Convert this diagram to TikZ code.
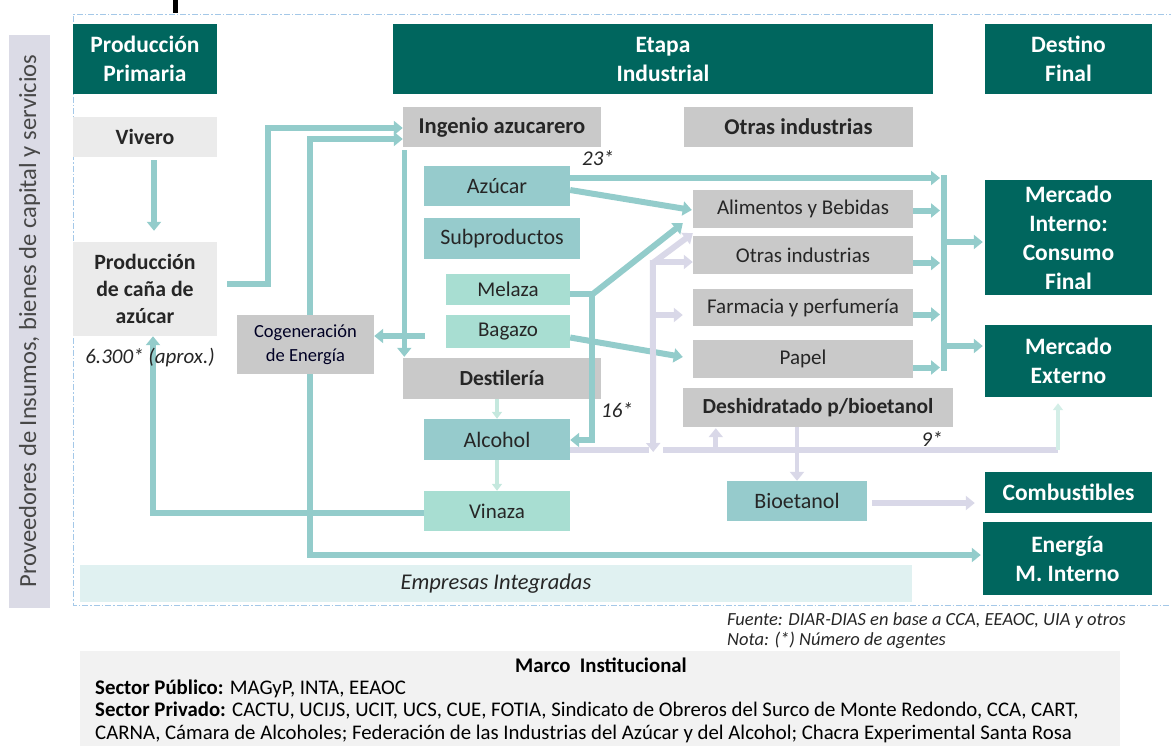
\documentclass[tikz,border=0pt]{standalone}
\usepackage{fontspec}
\setmainfont{Carlito}
\usetikzlibrary{arrows.meta,calc}
\definecolor{dteal}{HTML}{00665E}
\definecolor{tbox}{HTML}{96CBCC}
\definecolor{mbox}{HTML}{A8DED2}
\definecolor{gbox}{HTML}{C9C9C9}
\definecolor{lgray}{HTML}{EBEBEB}
\definecolor{tarr}{HTML}{93CCCB}
\definecolor{lav}{HTML}{D9D8E8}
\definecolor{barc}{HTML}{DBDBE6}
\definecolor{empc}{HTML}{E0F1F1}
\definecolor{marcoc}{HTML}{F2F2F2}
\definecolor{bord}{HTML}{A4C8E8}
\definecolor{txt}{HTML}{262626}
\definecolor{mintl}{HTML}{D3EEE7}
\definecolor{mints}{HTML}{C5E8DE}
\begin{document}
\begin{tikzpicture}[x=1pt,y=-1pt,
  box/.style={draw=none, inner sep=0pt, align=center, text=txt},
  hdr/.style={box, fill=dteal, text=white, font=\fontsize{23.5}{29}\selectfont\bfseries},
  gb/.style={box, fill=gbox, font=\fontsize{21.5}{26}\selectfont\bfseries},
  gbl/.style={box, fill=gbox, font=\fontsize{22.6}{26}\selectfont\bfseries},
  gr/.style={box, fill=gbox, font=\fontsize{21}{26}\selectfont},
  lg/.style={box, fill=lgray, font=\fontsize{21.8}{27}\selectfont\bfseries},
  tb/.style={box, fill=tbox, font=\fontsize{22}{26}\selectfont},
  mb/.style={box, fill=mbox, font=\fontsize{21}{26}\selectfont},
  lbl/.style={inner sep=0pt, text=txt, font=\fontsize{21}{24}\selectfont\itshape},
  tline/.style={draw=tarr, line width=6pt},
  tarrow/.style={tline, -{Triangle[length=9pt,width=14pt]}},
  lline/.style={draw=lav, line width=6pt},
  larrow/.style={lline, -{Triangle[length=9pt,width=14pt]}},
  marrow/.style={draw=mints, line width=4pt, -{Triangle[length=7pt,width=10pt]}},
  border/.style={draw=bord, line width=1pt, dash pattern=on 6pt off 2pt on 1.5pt off 2pt},
  note/.style={anchor=west, inner sep=0pt, text=txt, font=\fontsize{18.5}{22}\selectfont\itshape},
  mtext/.style={anchor=west, inner sep=0pt, text=black, font=\fontsize{20.8}{23}\selectfont},
]
\useasboundingbox (0,0) rectangle (1171,745);

% frame
\draw[border] (1175,14) -- (73,14) -- (73,605) -- (1175,605);
\fill[black] (173,0) rectangle (178,13);

% left bar
\node[box, fill=barc, minimum width=573pt, minimum height=41pt, rotate=90,
  font=\fontsize{24.6}{28}\selectfont, text=txt!85] (bar) at (29.5,321)
  {Proveedores de Insumos, bienes de capital y servicios};

% headers
\node[hdr, minimum width=144pt, minimum height=70pt] (pp) at (145,59) {Producción\\Primaria};
\node[hdr, minimum width=540pt, minimum height=70pt] (ei) at (663,59) {Etapa\\Industrial};
\node[hdr, minimum width=167pt, minimum height=70pt] (df) at (1068.5,59) {Destino\\Final};

% primary
\node[lg, minimum width=144pt, minimum height=40pt] (viv) at (145,137) {Vivero};
\node[lg, minimum width=144pt, minimum height=94pt] (cana) at (145,289) {Producción\\de caña de\\azúcar};
\node[box, fill=gbox, minimum width=137pt, minimum height=59pt, text=black!80!blue!70!black,
  font=\fontsize{18.5}{24}\selectfont] (cog) at (305.5,344.5) {Cogeneración\\de Energía};

% industrial
\node[gbl, minimum width=198pt, minimum height=40pt] (ing) at (502,127) {Ingenio azucarero};
\node[gbl, minimum width=229pt, minimum height=40pt] (otr1) at (798.5,127) {Otras industrias};
\node[tb, minimum width=146pt, minimum height=40pt] (azu) at (497,186) {Azúcar};
\node[tb, minimum width=156pt, minimum height=41pt] (sub) at (502,238.5) {Subproductos};
\node[mb, minimum width=124pt, minimum height=31pt] (mel) at (508,289.5) {Melaza};
\node[mb, minimum width=124pt, minimum height=33pt] (bag) at (508,331.5) {Bagazo};
\node[gb, minimum width=198pt, minimum height=41pt] (des) at (502,378.5) {Destilería};
\node[tb, minimum width=146pt, minimum height=41pt] (alc) at (497,439.5) {Alcohol};
\node[mb, minimum width=146pt, minimum height=40pt] (vin) at (497,511) {Vinaza};
\node[gr, minimum width=220pt, minimum height=38pt] (ali) at (803,209) {Alimentos y Bebidas};
\node[gr, minimum width=220pt, minimum height=38pt] (otr2) at (803,255) {Otras industrias};
\node[gr, minimum width=220pt, minimum height=37pt] (far) at (803,307.5) {Farmacia y perfumería};
\node[gr, minimum width=220pt, minimum height=38pt] (pap) at (803,359) {Papel};
\node[gb, minimum width=270pt, minimum height=39pt] (deh) at (818,407.5) {Deshidratado p/bioetanol};
\node[tb, minimum width=140pt, minimum height=40pt] (bio) at (797,501) {Bioetanol};

% destinations
\node[hdr, minimum width=167pt, minimum height=115pt] (mi) at (1068.5,237.5) {Mercado\\Interno:\\Consumo\\Final};
\node[hdr, minimum width=167pt, minimum height=72pt] (me) at (1068.5,361) {Mercado\\Externo};
\node[hdr, minimum width=167pt, minimum height=41pt] (com) at (1068.5,492.5) {Combustibles};
\node[hdr, minimum width=169pt, minimum height=73pt] (ene) at (1067.5,558.5) {Energía\\M. Interno};

% empresas integradas
\node[box, fill=empc, minimum width=832pt, minimum height=37pt,
  font=\fontsize{22.5}{24}\selectfont\itshape] (emp) at (496,583.5) {Empresas Integradas};

% connectors: primary
\draw[tarrow] ($(viv.south)+(9,3)$) -- ($(cana.north)+(9,-11)$);
\draw[tarrow] ($(cana.east)+(10,-5)$) -- ++(41,0) |- ($(ing.west)+(0,1)$);
\draw[tarrow] ($(cog.north)+(4.5,0)$) |- ($(ing.west)+(0,12)$);
\draw[tarrow] ($(cog.south)+(4.5,0)$) |- ($(ene.west)+(-2,-3.5)$);
\draw[tarrow] ($(vin.west)+(0,2)$) -| ($(cana.south)+(8,0)$);

% ingenio
\draw[tarrow, line width=5pt] ($(ing.south west)+(1.5,3)$) -- ($(des.north west)+(1.5,-1)$);
\draw[tarrow] ($(bag.west)+(-21,4.5)$) coordinate (bs) -- (bs -| cog.east);
\coordinate (cx) at (940,0);
\draw[tarrow] ($(azu.east)+(0,-8)$) coordinate (az1) -- (az1 -| cx);
\draw[tarrow] ($(azu.east)+(0,4)$) -- ($(ali.west)+(-1,1)$);
\draw[tline] ($(mel.east)+(0,4)$) -- ++(22,0) coordinate (mj);
\draw[tarrow] ($(mj)+(0,1)$) -- ($(ali.south west)+(-10,-5)$);
\draw[tarrow] (mj) |- ($(alc.east)+(0,0.5)$);
\draw[tarrow] ($(bag.east)+(0,6)$) -- ($(pap.west)+(-10,-2)$);

% small arrows destilería/alcohol/vinaza
\draw[marrow] (alc.north |- des.south) -- (alc.north);
\draw[marrow] (alc.south) -- (vin.north);

% lavender flows
\coordinate (lj) at ($(otr2.west)+(-40,7)$);
\draw[larrow] (lj) -- (lj -| otr2.west);
\draw[larrow] ($(lj)+(0,1)$) -- ($(ali.south west)+(0,5)$);
\draw[larrow] ($(lj)+(0,-2)$) -- ($(alc.east)+(83,12.5)$);
\draw[larrow] ($(far.west)+(-40,7.5)$) -- ($(far.west)+(-10,7.5)$);
\draw[lline] ($(alc.east)+(0,10.5)$) -- ($(alc.east)+(79,10.5)$);
\draw[lline] ($(alc.east)+(93,10.5)$) coordinate (l2) -- (l2 -| {$(me.south)+(-10.5,0)$});
\draw[draw=mintl, line width=4pt, -{Triangle[length=7pt,width=10pt]}]
  ($(me.south)+(-10.5,53)$) -- ($(me.south)+(-10.5,6)$);
\draw[larrow, line width=5pt] ($(deh.south west)+(33,23)$) -- ($(deh.south west)+(33,1)$);
\draw[larrow, line width=4.5pt] (bio.north |- deh.south) -- (bio.north);
\draw[larrow] ($(bio.east)+(5,2)$) -- ($(com.west)+(-10,10.5)$);

% collector
\coordinate (ct) at (944,175);
\coordinate (cb) at (944,371);
\draw[tline] (ct) -- (cb);
\draw[tarrow] ($(ali.east)+(0,1.5)$) coordinate (a1) -- (a1 -| cx);
\draw[tarrow] ($(otr2.east)+(0,8)$) coordinate (a2) -- (a2 -| cx);
\draw[tarrow] ($(far.east)+(0,7)$) coordinate (a3) -- (a3 -| cx);
\draw[tarrow] ($(pap.east)+(0,8.5)$) coordinate (a4) -- (a4 -| cx);
\draw[tarrow] ($(mi.west)+(-41,4.5)$) -- ($(mi.west)+(-2,4.5)$);
\draw[tarrow] ($(me.west)+(-41,-15)$) -- ($(me.west)+(-2,-15)$);

% labels (on top of lines)
\node[lbl] (n6300) at (150,358) {6.300* (aprox.)};
\node[lbl] (n23) at (598,158) {23*};
\node[lbl] (n16) at (617,410) {16*};
\node[lbl] (n9) at (932,439) {9*};

% notes
\node[note] (fuente) at (727,621) {Fuente: DIAR-DIAS en base a CCA, EEAOC, UIA y otros};
\node[note] (nota) at (727,640) {Nota: (*) Número de agentes};

% marco institucional
\node[box, fill=marcoc, minimum width=1040pt, minimum height=96pt] (marco) at (600,699) {};
\node[inner sep=0pt, text=black, font=\fontsize{20.8}{23}\selectfont\bfseries] (mt) at (601,665) {Marco\ \ Institucional};
\node[mtext] (m1) at (95,689) {\textbf{Sector Público:} MAGyP, INTA, EEAOC};
\node[mtext] (m2) at (95,711)
  {\textbf{Sector Privado:} CACTU, UCIJS, UCIT, UCS, CUE, FOTIA, Sindicato de Obreros del Surco de Monte Redondo, CCA, CART,};
\node[mtext] (m3) at (95,734)
  {CARNA, Cámara de Alcoholes; Federación de las Industrias del Azúcar y del Alcohol; Chacra Experimental Santa Rosa};
\end{tikzpicture}
\end{document}
